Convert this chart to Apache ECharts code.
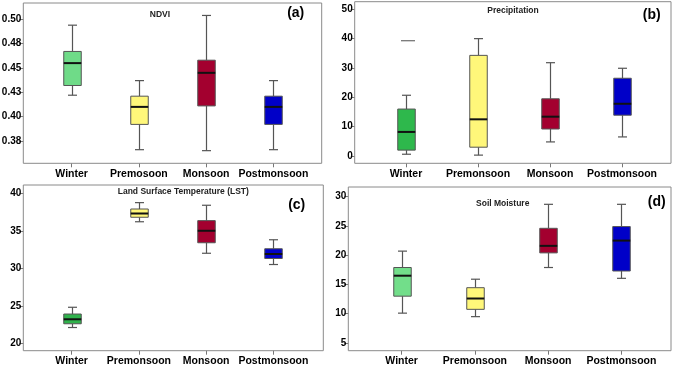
<!DOCTYPE html>
<html><head><meta charset="utf-8">
<script src="https://cdn.jsdelivr.net/npm/echarts@6/dist/echarts.min.js"></script>
<style>html,body{margin:0;padding:0;background:#fff}#c{width:676px;height:366px}</style>
</head><body><div id="c"></div>
<script>
// Categories
const seasonsA = ['Winter', 'Premosoon', 'Monsoon', 'Postmonsoon'];
const seasons = ['Winter', 'Premonsoon', 'Monsoon', 'Postmonsoon'];

// Box statistics per season: [min, Q1, median, Q3, max]
const ndviStats = [
  [0.422, 0.432, 0.455, 0.467, 0.494],
  [0.366, 0.392, 0.410, 0.421, 0.437],
  [0.365, 0.411, 0.445, 0.458, 0.504],
  [0.366, 0.392, 0.410, 0.421, 0.437]
];
const precipStats = [
  [0.6, 2.0, 8.2, 16.0, 20.7],
  [0.3, 3.0, 12.5, 34.3, 40.0],
  [4.8, 9.2, 13.4, 19.5, 31.8],
  [6.5, 13.9, 17.8, 26.5, 29.9]
];
const precipOutlier = [[0, 39.3]];
const lstStats = [
  [22.1, 22.6, 23.2, 23.9, 24.8],
  [36.2, 36.8, 37.3, 37.9, 38.75],
  [32.0, 33.4, 35.0, 36.35, 38.4],
  [30.5, 31.3, 31.9, 32.6, 33.8]
];
const soilStats = [
  [10.1, 13.0, 16.5, 17.9, 20.7],
  [9.5, 10.75, 12.6, 14.45, 15.9],
  [17.9, 20.4, 21.6, 24.6, 28.7],
  [16.05, 17.3, 22.5, 24.9, 28.7]
];

// Tick labels
const ndviTicks = [0.375, 0.400, 0.425, 0.450, 0.475, 0.500];
const ndviTickLabels = ['0.38', '0.40', '0.43', '0.45', '0.48', '0.50'];
const precipTicks = [0, 10, 20, 30, 40, 50];
const lstTicks = [20, 25, 30, 35, 40];
const soilTicks = [5, 10, 15, 20, 25, 30];

// Panel titles
const panelTitles = ['NDVI', 'Precipitation', 'Land Surface Temperature (LST)', 'Soil Moisture'];
const panelLetters = ['(a)', '(b)', '(c)', '(d)'];

// ---- styling / layout ----
const colorsA = ['#6FDB88', '#FFF77A', '#A3002F', '#0000C8'];
const colorsB = ['#2EB84C', '#FFF77A', '#A3002F', '#0000C8'];
const colorsC = ['#30B24C', '#FFF77A', '#A3002F', '#0000C8'];
const colorsD = ['#72DE8A', '#FFF77A', '#A3002F', '#0000C8'];

const panels = [
  {frame: [23.3, 3, 321.7, 163.3], grid: {left: 38, top: 3, width: 269, height: 160.3}, min: 0.352, max: 0.5168, ticks: ndviTicks, labels: ndviTickLabels, cats: seasonsA, stats: ndviStats, colors: colorsA,
   title: [160, 15], letter: [295.7, 13.5]},
  {frame: [354.7, 1.7, 671, 163.3], grid: {left: 370, top: 1.7, width: 288, height: 161.6}, min: -2.49, max: 52.59, ticks: precipTicks, labels: null, cats: seasons, stats: precipStats, colors: colorsB,
   title: [513, 11], letter: [651.7, 15]},
  {frame: [23.3, 185, 323.3, 350.7], grid: {left: 38, top: 185, width: 269, height: 165.7}, min: 19.01, max: 41.1, ticks: lstTicks, labels: null, cats: seasons, stats: lstStats, colors: colorsC,
   title: [183.3, 191.7], letter: [296.7, 205]},
  {frame: [348.3, 187, 671, 350.7], grid: {left: 365, top: 187, width: 293, height: 163.7}, min: 3.68, max: 31.66, ticks: soilTicks, labels: null, cats: seasons, stats: soilStats, colors: colorsD,
   title: [502.7, 203.3], letter: [656.7, 202]}
];

function boxRender(colors) {
  const boxW = 17.5, capW = 9;
  return function (params, api) {
    const i = api.value(0);
    const pMin = api.coord([i, api.value(1)]);
    const pQ1 = api.coord([i, api.value(2)]);
    const pMed = api.coord([i, api.value(3)]);
    const pQ3 = api.coord([i, api.value(4)]);
    const pMax = api.coord([i, api.value(5)]);
    const x = Math.round(pMed[0]) + 0.5;
    const ls = {stroke: '#555', lineWidth: 1.2};
    return {
      type: 'group',
      children: [
        {type: 'line', shape: {x1: x, y1: pMax[1], x2: x, y2: pQ3[1]}, style: ls},
        {type: 'line', shape: {x1: x, y1: pQ1[1], x2: x, y2: pMin[1]}, style: ls},
        {type: 'line', shape: {x1: x - capW / 2, y1: pMax[1], x2: x + capW / 2, y2: pMax[1]}, style: ls},
        {type: 'line', shape: {x1: x - capW / 2, y1: pMin[1], x2: x + capW / 2, y2: pMin[1]}, style: ls},
        {type: 'rect', shape: {x: x - boxW / 2, y: pQ3[1], width: boxW, height: pQ1[1] - pQ3[1]},
          style: {fill: colors[i], stroke: '#555', lineWidth: 1}},
        {type: 'line', shape: {x1: x - boxW / 2, y1: pMed[1], x2: x + boxW / 2, y2: pMed[1]},
          style: {stroke: '#111', lineWidth: 2}}
      ]
    };
  };
}

const font = 'Liberation Sans, Arial, sans-serif';
const option = {
  animation: false,
  backgroundColor: '#fff',
  grid: [], xAxis: [], yAxis: [], series: [], graphic: []
};

panels.forEach((p, k) => {
  option.grid.push(Object.assign({outerBoundsMode: 'none', containLabel: false, show: false}, p.grid));
  option.xAxis.push({
    type: 'category', gridIndex: k, data: p.cats, boundaryGap: true, position: 'bottom',
    axisLine: {show: false, onZero: false},
    axisTick: {show: true, alignWithLabel: true, length: 4, lineStyle: {color: '#777'}},
    axisLabel: {color: '#000', fontWeight: 'bold', fontSize: 10.5, fontFamily: font, margin: 5, interval: 0},
    splitLine: {show: false}
  });
  const tickList = p.ticks, labelList = p.labels;
  option.yAxis.push({
    type: 'value', gridIndex: k, min: p.min, max: p.max,
    offset: p.grid.left - p.frame[0],
    axisLine: {show: false, onZero: false},
    axisTick: {show: true, length: 4, customValues: tickList, lineStyle: {color: '#777'}},
    axisLabel: {
      color: '#000', fontWeight: 'bold', fontSize: 10, fontFamily: font, margin: 2,
      customValues: tickList,
      formatter: function (v) {
        if (labelList) {
          for (let j = 0; j < tickList.length; j++) {
            if (Math.abs(tickList[j] - v) < 1e-6) return labelList[j];
          }
        }
        return String(Math.round(v));
      }
    },
    splitLine: {show: false}
  });
  option.series.push({
    type: 'custom', xAxisIndex: k, yAxisIndex: k,
    renderItem: boxRender(p.colors),
    encode: {x: 0, y: [1, 2, 3, 4, 5]},
    data: p.stats.map((s, i) => [i].concat(s)),
    z: 5
  });
  const f = p.frame;
  option.graphic.push({
    type: 'rect', silent: true, z: 1,
    shape: {x: f[0], y: f[1], width: f[2] - f[0], height: f[3] - f[1]},
    style: {fill: null, stroke: '#8a8a8a', lineWidth: 1}
  });
  option.graphic.push({
    type: 'text', x: p.title[0], y: p.title[1], z: 10,
    style: {text: panelTitles[k], font: 'bold 8.5px ' + font, fill: '#222', align: 'center', verticalAlign: 'middle'}
  });
  option.graphic.push({
    type: 'text', x: p.letter[0], y: p.letter[1], z: 10,
    style: {text: panelLetters[k], font: 'bold 14px ' + font, fill: '#000', align: 'center', verticalAlign: 'middle'}
  });
});

option.series.push({
  type: 'scatter', xAxisIndex: 1, yAxisIndex: 1,
  data: precipOutlier,
  symbol: 'rect', symbolSize: [14, 1.3], symbolOffset: [2, 0],
  itemStyle: {color: '#555'}, z: 6
});

const chart = echarts.init(document.getElementById('c'), null, {renderer: 'canvas'});
chart.setOption(option);
</script>
</body></html>
